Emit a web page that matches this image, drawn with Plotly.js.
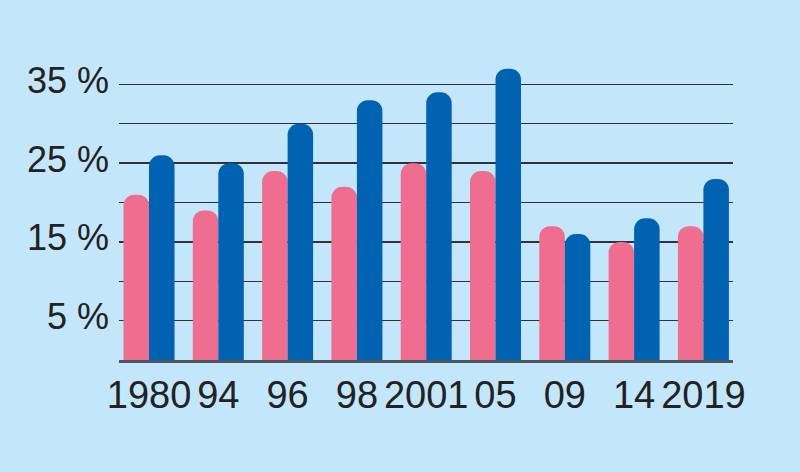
<!DOCTYPE html>
<html>
<head>
<meta charset="utf-8">
<script src="https://cdn.plot.ly/plotly-3.0.1.min.js"></script>
<style>html,body{margin:0;padding:0;background:#c4e6fa;}#chart{width:800px;height:472px;}</style>
</head>
<body>
<div id="chart"></div>
<script>
var categories = ["1980", "94", "96", "98", "2001", "05", "09", "14", "2019"];
var pinkValues = [21, 19, 24, 22, 25, 24, 17, 15, 17];
var blueValues = [26, 25, 30, 33, 34, 37, 16, 18, 23];
var yTickVals = [5, 15, 25, 35];
var yTickText = ["5 %", "15 %", "25 %", "35 %"];
var yMinorVals = [10, 20, 30];

var traces = [
  {type: "bar", x: categories, y: pinkValues, marker: {color: "#ef6d8f", cornerradius: 11}, hoverinfo: "none"},
  {type: "bar", x: categories, y: blueValues, marker: {color: "#0062b0", cornerradius: 11}, hoverinfo: "none"}
];

var layout = {
  width: 800, height: 472,
  paper_bgcolor: "#c4e6fa", plot_bgcolor: "#c4e6fa",
  margin: {l: 119, r: 67, t: 45, b: 112},
  showlegend: false,
  barmode: "group", bargap: 0.264, bargroupgap: 0,
  font: {family: "Liberation Sans, Arial, sans-serif", color: "#222222"},
  xaxis: {
    type: "category", range: [-0.433, 8.427], fixedrange: true,
    showgrid: false, showline: true, linecolor: "#4a5660", linewidth: 2.5,
    ticks: "", tickfont: {size: 38, color: "#222222"}, ticklabelstandoff: 0
  },
  yaxis: {
    range: [0, 40], fixedrange: true, zeroline: false, showline: false,
    tickvals: yTickVals, ticktext: yTickText, ticks: "",
    tickfont: {size: 36, color: "#222222"}, ticklabelstandoff: 9, ticklabelshift: -4,
    showgrid: true, gridcolor: "#2e3338", gridwidth: 1.4,
    minor: {tickvals: yMinorVals, showgrid: true, gridcolor: "#2e3338", gridwidth: 1.4, ticks: ""}
  }
};

Plotly.newPlot("chart", traces, layout, {displayModeBar: false, staticPlot: true});
</script>
</body>
</html>
